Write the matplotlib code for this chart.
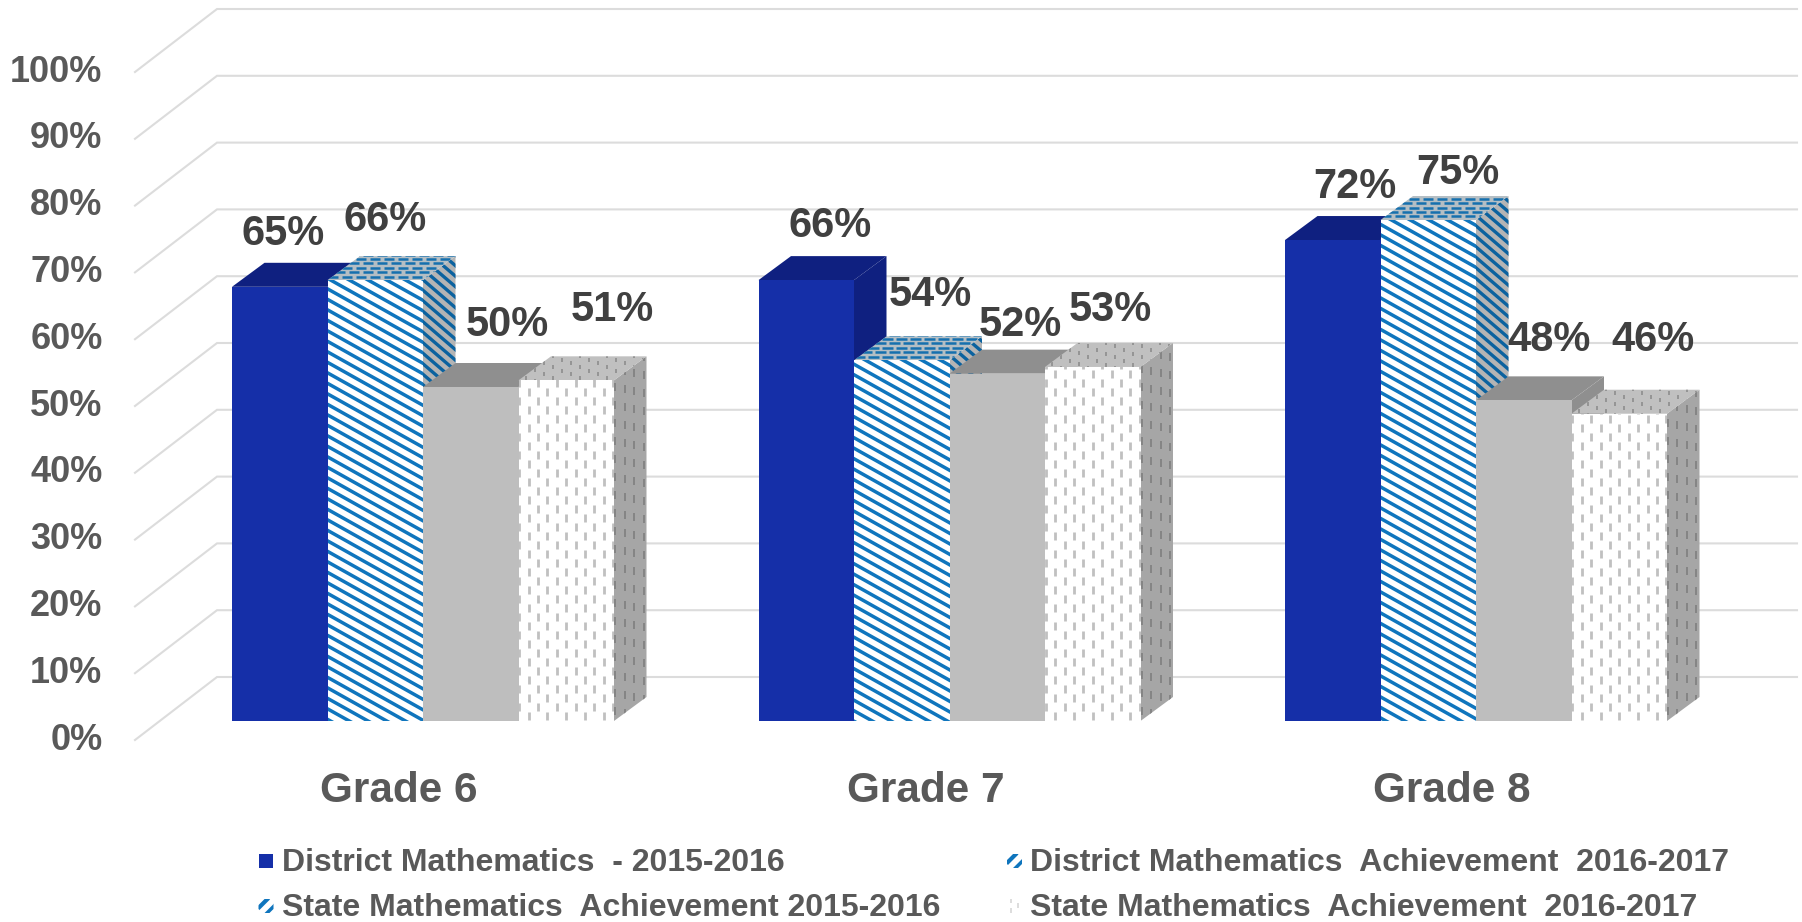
import numpy as np
import matplotlib
matplotlib.use("Agg")
import matplotlib.pyplot as plt
from matplotlib.collections import LineCollection
from matplotlib.patches import Polygon
from matplotlib.transforms import IdentityTransform

plt.rcParams['font.family'] = ['Liberation Sans', 'DejaVu Sans']
plt.rcParams['font.weight'] = 'bold'

# Datos
grades = ["Grade 6", "Grade 7", "Grade 8"]
district_1516 = [65, 66, 72]
district_1617 = [66, 54, 75]
state_1516 = [50, 52, 48]
state_1617 = [51, 53, 46]
y_ticks = list(range(0, 101, 10))
legend_labels = ["District Mathematics  - 2015-2016",
                 "State Mathematics  Achievement 2015-2016",
                 "District Mathematics  Achievement  2016-2017",
                 "State Mathematics  Achievement  2016-2017"]

# label offsets from the bar top (px), one list per series
label_dx = [[3, 24, 22], [10, 29, 30], [37, 23, 25], [46, 18, 34]]
label_dy = [[53, 54, 53], [60, 65, 47], [62, 49, 60], [70, 57, 74]]

# scales
W, H = 1802, 922
GROUP_PX = 526.5      # px between grades
VAL_PX = 6.68         # px per percent
X0_PX, Y0_PX = 423, 721
BAR_W = 95.5 / GROUP_PX
DX, DY = 32.5 / GROUP_PX, 24 / VAL_PX

fig = plt.figure(figsize=(W / 100, H / 100), dpi=100)
ax = fig.add_axes([0, 0, 1, 1])
ax.set_xlim(-X0_PX / GROUP_PX, (W - X0_PX) / GROUP_PX)
ax.set_ylim(-(H - Y0_PX) / VAL_PX, Y0_PX / VAL_PX)
ax.axis("off")


def xu(px):
    return (px - X0_PX) / GROUP_PX


def yu(py):
    return (Y0_PX - py) / VAL_PX


def clipped(segs, poly, lw, color, z):
    patch = Polygon(poly, closed=True, transform=ax.transData, fc="none", ec="none")
    ax.add_patch(patch)
    lc = LineCollection(segs, colors=color, linewidths=lw, transform=IdentityTransform(), zorder=z)
    ax.add_collection(lc, autolim=False)
    lc.set_clip_path(patch)
    return lc


def stripes(poly, slope, pitch, lw, color, z):
    """diagonal lines clipped to a polygon (display px)"""
    pts = ax.transData.transform(poly)
    xmin, ymin = pts.min(axis=0) - 5
    xmax, ymax = pts.max(axis=0) + 5
    span = (xmax - xmin) * abs(slope) + (ymax - ymin)
    segs = []
    for c in np.arange(-span, span, pitch):
        ya = ymin + c + (ymax - ymin) / 2
        segs.append([(xmin, ya), (xmax, ya + slope * (xmax - xmin))])
    return clipped(segs, poly, lw, color, z)


def dashes(poly, col_pitch, row_pitch, length, lw, color, z, shear=0.0):
    """staggered vertical dashes clipped to a polygon; shear follows the face depth"""
    pts = ax.transData.transform(poly)
    xmin, ymin = pts.min(axis=0) - row_pitch
    xmax, ymax = pts.max(axis=0) + row_pitch
    segs = []
    for i, x in enumerate(np.arange(xmin, xmax, col_pitch)):
        off = (i % 2) * row_pitch / 2
        for y in np.arange(ymin - 80, ymax + 80, row_pitch):
            yy = y + off + shear * (x - xmin)
            segs.append([(x, yy), (x, yy + length)])
    return clipped(segs, poly, lw, color, z)


def bricks(poly, row_pitch, col_pitch, length, lw, color, z):
    """staggered horizontal dashes, for the top of the striped bar"""
    pts = ax.transData.transform(poly)
    xmin, ymin = pts.min(axis=0) - col_pitch
    xmax, ymax = pts.max(axis=0) + col_pitch
    segs = []
    for i, y in enumerate(np.arange(ymin, ymax, row_pitch)):
        off = (i % 2) * col_pitch / 2
        for x in np.arange(xmin, xmax, col_pitch):
            segs.append([(x + off, y), (x + off + length, y)])
    return clipped(segs, poly, lw, color, z)


def faces(x0, v):
    front = [(x0, 0), (x0 + BAR_W, 0), (x0 + BAR_W, v), (x0, v)]
    top = [(x0, v), (x0 + BAR_W, v), (x0 + BAR_W + DX, v + DY), (x0 + DX, v + DY)]
    side = [(x0 + BAR_W, 0), (x0 + BAR_W + DX, DY), (x0 + BAR_W + DX, v + DY), (x0 + BAR_W, v)]
    return front, top, side


def draw_solid(x0, v, c_front, c_top, z):
    front, top, side = faces(x0, v)
    ax.fill(*zip(*side), color=c_top, lw=0, zorder=z)
    ax.fill(*zip(*top), color=c_top, lw=0, zorder=z)
    ax.fill(*zip(*front), color=c_front, lw=0, zorder=z)


def draw_striped(x0, v, z):
    front, top, side = faces(x0, v)
    ax.fill(*zip(*side), color="#B4B4B4", lw=0, zorder=z)
    stripes(side, -0.86, 10.5, 2.4, "#0B629F", z)
    ax.fill(*zip(*top), color="#B4BEC4", lw=0, zorder=z)
    bricks(top, 4.4, 14, 10.5, 1.8, "#1670AE", z)
    ax.fill(*zip(*front), color="white", lw=0, zorder=z)
    stripes(front, -0.56, 10.5, 2.5, "#0F75BD", z)


def draw_dotted(x0, v, z):
    front, top, side = faces(x0, v)
    ax.fill(*zip(*side), color="#A6A6A6", lw=0, zorder=z)
    dashes(side, 9.5, 18, 8, 1.4, "#858585", z, shear=0.73)
    ax.fill(*zip(*top), color="#C0C0C0", lw=0, zorder=z)
    dashes(top, 9, 11, 4, 1.4, "#949494", z, shear=0.2)
    ax.fill(*zip(*front), color="white", lw=0, zorder=z)
    dashes(front, 9.4, 18, 8, 2.0, "#C0C0C0", z)


# grid: side wall + back wall
wall = 44 / VAL_PX
floor = 19 / VAL_PX
for t in y_ticks:
    ax.plot([xu(135), xu(217), xu(1797)], [t - floor, t + wall, t + wall],
            color="#DCDCDC", lw=1.5, zorder=1, solid_joinstyle="miter")
    ax.text(xu(102.5), t - floor, f"{t}%", ha="right", va="center",
            fontsize=26, color="#595959")

series = [district_1516, district_1617, state_1516, state_1617]
for s, vals in enumerate(series):
    for g, v in enumerate(vals):
        x0 = g + (s - 2) * BAR_W
        z = 2 + g + s * 0.1
        if s == 0:
            draw_solid(x0, v, "#152FA8", "#0F2080", z)
        elif s == 1:
            draw_striped(x0, v, z)
        elif s == 2:
            draw_solid(x0, v, "#BEBEBE", "#8F8F8F", z)
        else:
            draw_dotted(x0, v, z)
        ax.text(x0 + BAR_W / 2 + label_dx[s][g] / GROUP_PX, v + label_dy[s][g] / VAL_PX,
                f"{v}%", ha="center", va="center", fontsize=30, color="#404040", zorder=10)

for g, name in enumerate(grades):
    ax.text(g - 24 / GROUP_PX, yu(791), name, ha="center", va="center",
            fontsize=30.4, color="#595959")

# legend by hand, the icons do not follow the bars
legend_x = [258.5, 1007]
legend_y = [861, 906]
for i, label in enumerate(legend_labels):
    lx, ly = legend_x[i // 2], legend_y[i % 2]
    box = [(xu(lx), yu(ly - 7)), (xu(lx + 14), yu(ly - 7)), (xu(lx + 14), yu(ly + 7)), (xu(lx), yu(ly + 7))]
    if i == 0:
        ax.fill(*zip(*box), color="#152FA8", lw=0, zorder=3)
    elif i in (1, 2):
        blob = [(xu(lx + 4), yu(ly - 7)), (xu(lx + 11), yu(ly - 7)), (xu(lx + 15), yu(ly - 3)),
                (xu(lx + 15), yu(ly + 3)), (xu(lx + 11), yu(ly + 7)), (xu(lx + 4), yu(ly + 7)),
                (xu(lx), yu(ly + 3)), (xu(lx), yu(ly - 3))]
        stripes(blob, 1.0, 14, 3.0, "#0F75BD", 4)
    else:
        dashes(box, 7, 10, 5, 1.4, "#DDDDDD", 4)
    ax.text(xu(lx + 23), yu(ly + 2), label, ha="left", va="center", fontsize=23, color="#595959")

fig.savefig("out.png", dpi=100)
